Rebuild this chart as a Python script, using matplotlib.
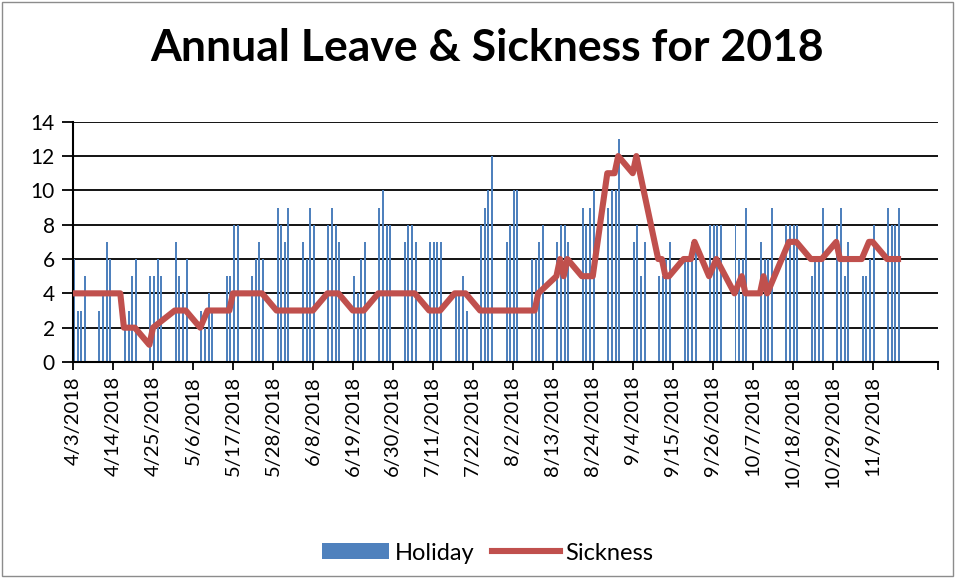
import matplotlib
matplotlib.use('Agg')
import matplotlib.pyplot as plt
import matplotlib.dates as mdates
import pandas as pd
from matplotlib.patches import Rectangle, Patch
from matplotlib.lines import Line2D
from matplotlib.ticker import FixedLocator

plt.rcParams['font.family'] = ['Lato', 'DejaVu Sans']

# holiday figures are logged Tue..Fri, one row per week
week_starts = pd.date_range('2018-04-03', periods=33, freq='7D')
holiday = [
    [6, 3, 3, 5], [3, 4, 7, 6], [2, 3, 5, 6], [5, 5, 6, 5], [7, 5, 4, 6],
    [3, 2, 4, 3], [5, 5, 8, 8], [5, 6, 7, 6], [9, 8, 7, 9], [7, 6, 9, 8],
    [8, 9, 8, 7], [5, 4, 6, 7], [9, 10, 8, 8], [7, 8, 8, 7], [7, 7, 7, 7],
    [4, 4, 5, 3], [8, 9, 10, 12], [7, 8, 10, 10], [6, 6, 7, 8], [7, 8, 8, 7],
    [9, 8, 9, 10], [9, 10, 10, 13], [7, 8, 5, 7], [5, 5, 6, 7], [6, 6, 7, 7],
    [8, 8, 8, 8], [8, 6, 6, 9], [7, 6, 6, 9], [8, 8, 8, 8], [5, 6, 6, 9],
    [8, 9, 5, 7], [5, 5, 6, 8], [9, 8, 8, 9],
]

sick_dates = [
    '2018-04-03', '2018-04-16', '2018-04-17', '2018-04-20', '2018-04-24',
    '2018-04-25', '2018-05-01', '2018-05-04', '2018-05-08', '2018-05-10',
    '2018-05-16', '2018-05-17', '2018-05-25', '2018-05-29', '2018-06-08',
    '2018-06-12', '2018-06-15', '2018-06-19', '2018-06-22', '2018-06-26',
    '2018-07-06', '2018-07-10', '2018-07-13', '2018-07-17', '2018-07-20',
    '2018-07-24', '2018-08-08', '2018-08-09', '2018-08-14', '2018-08-15',
    '2018-08-16', '2018-08-17', '2018-08-21', '2018-08-24', '2018-08-28',
    '2018-08-30', '2018-08-31', '2018-09-04', '2018-09-05', '2018-09-11',
    '2018-09-12', '2018-09-13', '2018-09-14', '2018-09-18', '2018-09-20',
    '2018-09-21', '2018-09-25', '2018-09-27', '2018-10-02', '2018-10-04',
    '2018-10-05', '2018-10-09', '2018-10-10', '2018-10-11', '2018-10-17',
    '2018-10-19', '2018-10-23', '2018-10-26', '2018-10-30', '2018-10-31',
    '2018-11-06', '2018-11-08', '2018-11-09', '2018-11-13', '2018-11-16',
]
sick_vals = [
    4, 4, 2, 2, 1,
    2, 3, 3, 2, 3,
    3, 4, 4, 3, 3,
    4, 4, 3, 3, 4,
    4, 3, 3, 4, 4,
    3, 3, 4, 5, 6,
    5, 6, 5, 5, 11,
    11, 12, 11, 12, 6,
    6, 5, 5, 6, 6,
    7, 5, 6, 4, 5,
    4, 4, 5, 4, 7,
    7, 6, 6, 7, 6,
    6, 7, 7, 6, 6,
]

tick_start = '2018-04-03'
tick_step = 11
n_ticks = 21
axis_end = '2018-11-27'

blue = '#4F81BD'
red = '#C0504D'

bar_dates = [ws + pd.Timedelta(days=i) for ws in week_starts for i in range(4)]
bar_vals = [v for week in holiday for v in week]

fig = plt.figure(figsize=(9.56, 5.78), dpi=100)
ax = fig.add_axes([0.0764, 0.3737, 0.9048, 0.4157])

ax.bar(mdates.date2num(bar_dates), bar_vals, width=0.55, align='edge',
       color=blue, lw=0, zorder=2)
ax.plot(mdates.date2num(pd.to_datetime(sick_dates)), sick_vals, color=red,
        lw=4.4, solid_joinstyle='round', zorder=3)

x0 = mdates.date2num(pd.Timestamp(tick_start))
x1 = mdates.date2num(pd.Timestamp(axis_end))
ax.set_xlim(x0, x1)
ax.set_ylim(0, 14)
ax.set_yticks(range(0, 15, 2))

ticks = pd.date_range(tick_start, periods=n_ticks, freq=f'{tick_step}D')
ax.set_xticks(mdates.date2num(ticks))
ax.set_xticklabels([f'{t.month}/{t.day}/{t.year}' for t in ticks],
                   rotation=90, fontsize=14.5)
ax.xaxis.set_minor_locator(FixedLocator([x1]))

ax.yaxis.grid(True, color='black', lw=1.3)
ax.set_axisbelow(True)
for s in ['top', 'right']:
    ax.spines[s].set_visible(False)
for s in ['left', 'bottom']:
    ax.spines[s].set_linewidth(1.5)
ax.tick_params(axis='y', length=8, width=1.3, labelsize=15, pad=5)
ax.tick_params(axis='x', which='both', length=6, width=1.3, pad=4)

fig.text(0.509, 0.917, 'Annual Leave & Sickness for 2018', ha='center',
         va='center', fontsize=32, fontweight='bold')

handles = [Patch(facecolor=blue, label='Holiday'),
           Line2D([], [], color=red, lw=4.4, label='Sickness')]
fig.legend(handles=handles, loc='center', bbox_to_anchor=(0.51, 0.043), ncol=2,
           frameon=False, fontsize=17, handlelength=2.85, handleheight=0.68,
           handletextpad=0.25, columnspacing=0.75)

fig.patches.append(Rectangle((0.002, 0.003), 0.995, 0.993, transform=fig.transFigure,
                             fill=False, edgecolor='#8c8c8c', lw=1))

fig.savefig('out.png', dpi=100)
